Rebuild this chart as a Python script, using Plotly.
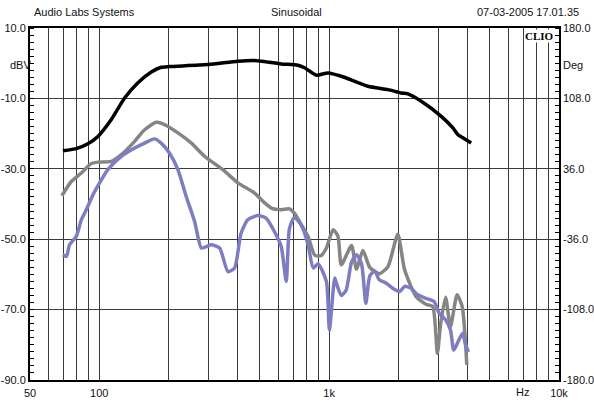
import plotly.graph_objects as go

# ---------------------------------------------------------------
# data (Hz, dBV)
# ---------------------------------------------------------------
black_f = [69.5, 80, 89.3, 98.7, 112.9, 129, 147, 168.5, 186, 202, 297, 401, 474, 508,
           619, 731, 782, 879, 988, 1130, 1475, 1802, 2060, 2202, 2517, 3075, 3456,
           3633, 3818, 4150]
black_db = [-24.9, -24.2, -22.9, -20.8, -16.0, -9.9, -5.6, -2.5, -1.15, -0.95, -0.4, 0.55,
            0.75, 0.55, -0.2, -0.6, -1.3, -3.4, -2.75, -3.7, -6.55, -7.5, -8.45, -8.7,
            -10.8, -15.1, -18.4, -20.3, -21.2, -22.7]

gray_f = [68.8, 75.6, 83.6, 92.4, 98.7, 112.9, 124.8, 142.6, 157.6, 177, 192.5, 220,
          251.7, 288, 345, 401, 474, 524, 561, 619, 672, 706, 757, 810, 867, 925, 973,
          1041, 1093, 1130, 1252, 1315, 1403, 1502, 1653, 1803, 1990, 2130, 2390, 2636,
          2820, 2957, 3057, 3210, 3373, 3603, 3790, 3972]
gray_db = [-37.65, -33.6, -31.2, -28.5, -28.1, -27.9, -26.0, -22.2, -18.9, -16.8, -17.45,
           -19.8, -22.7, -26.5, -30.25, -34.0, -36.9, -39.7, -41.15, -41.6, -41.4, -42.6,
           -45.9, -49.2, -54.6, -54.6, -52.5, -47.3, -49.2, -57.3, -51.8, -58.5, -53.2,
           -58.0, -59.8, -57.8, -48.6, -58.7, -66.3, -68.5, -69.1, -82.4, -74.0, -66.5,
           -74.8, -65.8, -69.1, -85.7]

blue_f = [69.5, 72, 74.3, 79.5, 83.6, 87.9, 93.9, 100.4, 109, 124.8, 142.6, 157.6, 174,
          186, 202, 220, 239, 260, 278, 292, 307, 334, 363, 388, 414, 443, 490, 532, 578,
          619, 651, 672, 706, 757, 810, 853, 896, 973, 1003, 1058, 1076, 1130, 1187, 1252,
          1315, 1384, 1445, 1502, 1578, 1653, 1774, 1897, 2028, 2130, 2270, 2428, 2636,
          2862, 3010, 3210, 3373, 3484, 3670, 3810, 3910, 4035]
blue_db = [-54.4, -54.9, -51.6, -49.2, -44.5, -41.6, -37.4, -34.0, -30.25, -26.5, -24.1,
           -22.7, -21.5, -22.7, -25.5, -30.25, -37.85, -45.0, -52.5, -52.1, -51.6, -52.5,
           -59.2, -58.2, -48.3, -44.5, -43.3, -44.0, -47.8, -52.1, -62.0, -47.0, -43.8,
           -46.0, -51.5, -58.2, -57.0, -62.0, -75.8, -61.0, -62.5, -66.0, -64.4, -56.5,
           -54.4, -57.0, -68.2, -60.5, -59.0, -61.55, -62.5, -64.0, -64.9, -63.4, -63.9,
           -65.8, -66.8, -67.7, -71.0, -72.9, -75.8, -81.5, -78.6, -76.7, -79.6, -82.0]

grid_hz = [50, 60, 70, 80, 90, 100, 200, 300, 400, 500, 600, 700, 800, 900,
           1000, 2000, 3000, 4000, 5000, 6000, 7000, 8000, 9000, 10000]
grid_text = ["50", "", "", "", "", "100", "", "", "", "", "", "", "", "",
             "1k", "", "", "", "", "", "", "", "", "10k"]

dbv_ticks = [10, -10, -30, -50, -70, -90]
dbv_text = ["10.0", "-10.0", "-30.0", "-50.0", "-70.0", "-90.0"]
deg_ticks = [180, 108, 36, -36, -108, -180]
deg_text = ["180.0", "108.0", "36.0", "-36.0", "-108.0", "-180.0"]

FONT = "Liberation Sans, Arial, sans-serif"
GRID = "#3a3a3a"

fig = go.Figure()
for f, db, col in [(gray_f, gray_db, "#858585"),
                   (blue_f, blue_db, "#7d7dc2"),
                   (black_f, black_db, "#000000")]:
    fig.add_trace(go.Scatter(
        x=f, y=db, mode="lines",
        line=dict(color=col, width=3.5, shape="spline", smoothing=0.6),
        showlegend=False, hoverinfo="skip"
    ))

# empty trace so the phase (Deg) axis gets drawn
fig.add_trace(go.Scatter(x=black_f, y=[None] * len(black_f), yaxis="y2",
                         mode="lines", showlegend=False, hoverinfo="skip"))

fig.update_layout(
    width=594, height=403,
    margin=dict(l=30, r=35, t=28, b=23),
    paper_bgcolor="white", plot_bgcolor="white",
    font=dict(family=FONT, size=11, color="#111"),
    xaxis=dict(
        type="log", range=[1.69897, 4.0],
        tickvals=grid_hz, ticktext=grid_text,
        showgrid=True, gridcolor=GRID, gridwidth=1,
        showline=True, linecolor="black", linewidth=2, mirror=True,
        ticks="", zeroline=False, ticklabelstandoff=2, automargin=False
    ),
    yaxis=dict(
        range=[-90, 10],
        tickvals=dbv_ticks, ticktext=dbv_text,
        showgrid=True, gridcolor=GRID, gridwidth=1,
        showline=True, linecolor="black", linewidth=2, mirror=True,
        ticks="", zeroline=False, ticklabelstandoff=0, automargin=False,
        minor=dict(ticks="inside", dtick=2, ticklen=4, tickcolor="black", showgrid=False)
    ),
    yaxis2=dict(
        range=[-180, 180], overlaying="y", side="right",
        tickvals=deg_ticks, ticktext=deg_text,
        showgrid=False, zeroline=False, ticks="", ticklabelstandoff=3, automargin=False,
        minor=dict(ticks="inside", dtick=7.2, ticklen=4, tickcolor="black")
    ),
)

# header texts and axis units, placed in pixel terms
px = lambda x: (x - 30) / 529
for txt, x, y in [("Audio Labs Systems", 84, 12), ("Sinusoidal", 296, 12),
                  ("07-03-2005 17.01.35", 528, 12), ("dBV", 20, 65), ("Deg", 573, 65),
                  ("Hz", 522, 392)]:
    fig.add_annotation(x=px(x), y=1 - (y - 28) / 352, xref="paper", yref="paper",
                       text=txt, showarrow=False, xanchor="center", yanchor="middle",
                       font=dict(family=FONT, size=11, color="#111"))
fig.add_annotation(x=px(539), y=1 - (36 - 28) / 352, xref="paper", yref="paper",
                   text="<b>CLIO</b>", showarrow=False, bgcolor="white", borderpad=0,
                   xanchor="center", yanchor="middle",
                   font=dict(family="Liberation Serif, Times New Roman, serif", size=11,
                             color="black"))

fig.write_html("out.html", config={"displayModeBar": False},
               post_script="document.body.style.margin='0';")
